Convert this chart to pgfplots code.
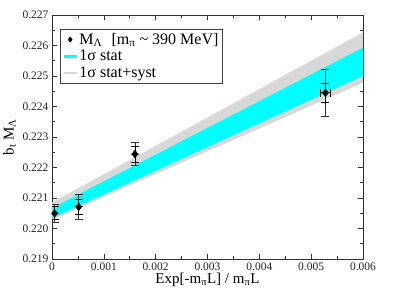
\documentclass[border=0pt]{standalone}
\usepackage{fontspec}
\setmainfont{Liberation Serif}
\usepackage{pgfplots}
\pgfplotsset{compat=1.18}
\definecolor{bandgray}{RGB}{216,216,216}
\definecolor{bandcyan}{RGB}{0,255,255}
\pgfplotsset{shortline/.style={legend image code/.code={\draw[##1] (0bp,0bp) -- (13bp,0bp);}},
  onemark/.style={legend image code/.code={\draw[##1] plot coordinates {(6.5bp,0bp)};}}}
\begin{document}
\begin{tikzpicture}
\useasboundingbox (-52bp,-29bp) rectangle (355bp,259bp);
\begin{axis}[
  at={(0,0)}, anchor=south west,
  scale only axis, width=311bp, height=244bp,
  xmin=0, xmax=0.006, ymin=0.219, ymax=0.227,
  xtick={0,0.001,...,0.006}, ytick={0.219,0.220,...,0.227},
  minor x tick num=1, minor y tick num=1,
  tick align=inside, major tick length=5bp, minor tick length=3bp,
  xticklabels={0,0.001,0.002,0.003,0.004,0.005,0.006},
  yticklabels={0.219,0.220,0.221,0.222,0.223,0.224,0.225,0.226,0.227},
  scaled x ticks=false, scaled y ticks=false,
  tick label style={font=\fontsize{11.5bp}{12bp}\selectfont, color=black!85},
  axis line style={black!80, line width=0.8bp},
  every tick/.style={black!80, line width=0.6bp},
  xlabel={Exp[-m\textsubscript{π}L] / m\textsubscript{π}L},
  ylabel={b\textsubscript{t} M\textsubscript{Λ}},
  label style={font=\fontsize{15bp}{16bp}\selectfont},
  xlabel style={yshift=4bp},
  ylabel style={yshift=0bp},
  legend cell align=left,
  legend style={at={(axis description cs:0.026,0.943)}, anchor=north west,
    font=\fontsize{16bp}{16bp}\selectfont, draw=black!75, line width=0.7bp,
    inner xsep=2bp, inner ysep=2.5bp, row sep=1.5bp,
    nodes={inner sep=1.5bp}},
]
\addlegendimage{only marks, mark=diamond*, mark size=2.5bp, black, onemark}
\addlegendentry{M\textsubscript{Λ}\,\, [m\textsubscript{π} \textasciitilde{} 390 MeV]}
\addlegendimage{bandcyan, line width=2.5bp, shortline}
\addlegendentry{1σ stat}
\addlegendimage{bandgray, line width=2.5bp, shortline}
\addlegendentry{1σ stat+syst}

\addplot[fill=bandgray, draw=none, forget plot] coordinates {
 (0,0.22085) (0.006,0.22643) (0.006,0.22478) (0,0.22028)} --cycle;
\addplot[fill=bandcyan, draw=none, forget plot] coordinates {
 (0,0.22067) (0.006,0.22593) (0.006,0.22500) (0,0.22034)} --cycle;

% outer (stat+syst) error bars
\addplot[forget plot, draw=none, mark=none, black!80,
  error bars/.cd, y dir=both, y explicit,
  error bar style={line width=0.7bp, black!80},
  error mark options={rotate=90, mark size=4bp, line width=0.7bp, black!80}]
 coordinates {
 (0.00005,0.22050) +- (0,0.00029)
 (0.000515,0.22071) +- (0,0.00042)
 (0.0016,0.22244) +- (0,0.00037)
 (0.005276,0.22445) +- (0,0.00077)};
% inner (stat) error bars
\addplot[forget plot, draw=none, mark=none, black,
  error bars/.cd, y dir=both, y explicit, x dir=both, x explicit,
  error bar style={line width=0.7bp, black},
  error mark options={rotate=90, mark size=4bp, line width=0.7bp, black}]
 coordinates {
 (0.00005,0.22050) +- (0,0.00021)
 (0.000515,0.22071) +- (0,0.00026)
 (0.0016,0.22244) +- (0,0.00026)
 (0.005276,0.22445) +- (0.0001,0.00031)};
\addplot[forget plot, only marks, mark=diamond*, mark size=4bp, black]
 coordinates {(0.00005,0.22050) (0.000515,0.22071) (0.0016,0.22244) (0.005276,0.22445)};
\end{axis}
\end{tikzpicture}
\end{document}
